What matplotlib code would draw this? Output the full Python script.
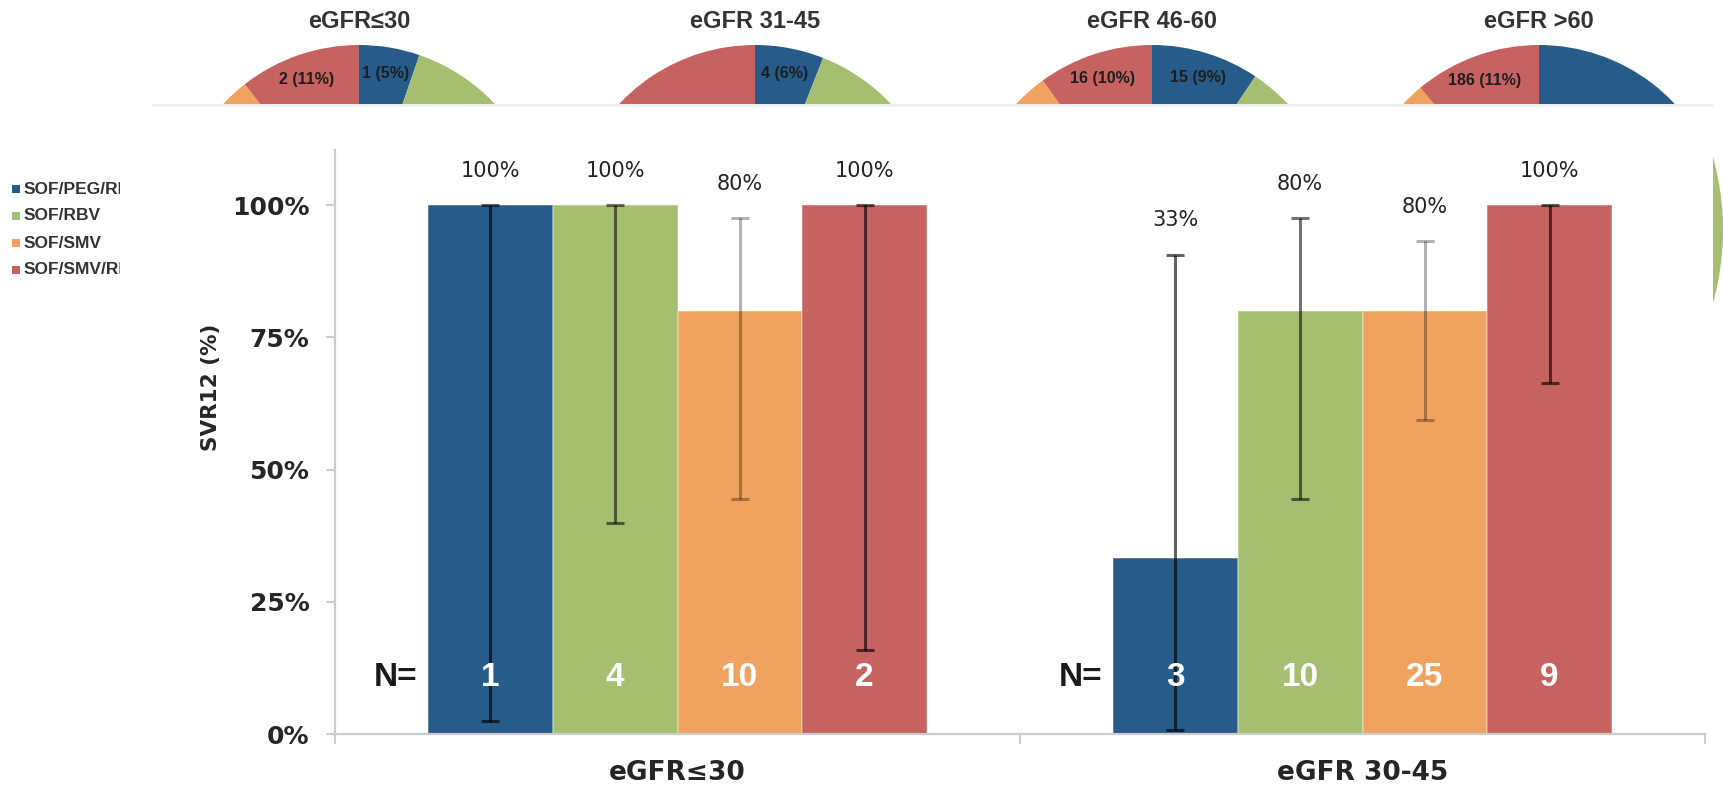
import matplotlib
matplotlib.use("Agg")
import matplotlib.pyplot as plt
from matplotlib.patches import Rectangle, Circle
from matplotlib.font_manager import FontProperties
import numpy as np

W, H, DPI = 1723, 787, 100

# ---------------- data ----------------
regimens = ["SOF/PEG/RBV", "SOF/RBV", "SOF/SMV", "SOF/SMV/RBV"]
colors = ["#275B89", "#A6BE6F", "#EFA35E", "#C66260"]

groups = ["eGFR≤30", "eGFR 30-45"]
svr_le30 = [100, 100, 80, 100]
svr_30_45 = [33.3, 80, 80, 100]
ci_low_le30 = [2.5, 39.8, 44.4, 15.8]
ci_high_le30 = [100, 100, 97.5, 100]
ci_low_30_45 = [0.8, 44.4, 59.3, 66.4]
ci_high_30_45 = [90.6, 97.5, 93.2, 100]
n_le30 = [1, 4, 10, 2]
n_30_45 = [3, 10, 25, 9]
value_labels_le30 = ["100%", "100%", "80%", "100%"]
value_labels_30_45 = ["33%", "80%", "80%", "100%"]

yticks = [0, 25, 50, 75, 100]
ytick_labels = ["0%", "25%", "50%", "75%", "100%"]
ylabel = "SVR12 (%)"

pie_titles = ["eGFR≤30", "eGFR 31-45", "eGFR 46-60", "eGFR >60"]
pie_le30 = [1, 9, 7, 2]
pie_31_45 = [4, 20, 18, 25]
pie_46_60 = [15, 70, 59, 16]
pie_gt60 = [700, 500, 304, 186]

# ---------------- styles ----------------
err_alpha = [0.62, 0.55, 0.3, 0.62]
TXT = "#262626"
AXC = "#cccccc"
BOLD_SANS = dict(family="Liberation Sans", weight="bold")
BOLD_DV = dict(family="DejaVu Sans", weight="bold")

fig = plt.figure(figsize=(W / DPI, H / DPI), dpi=DPI)
fig.patch.set_facecolor("white")


def px_axes(x0, y0, x1, y1, **kw):
    return fig.add_axes([x0 / W, 1 - y1 / H, (x1 - x0) / W, (y1 - y0) / H], **kw)


# ---------------- decoration layer ----------------
deco = px_axes(0, 0, W, H, zorder=0)
deco.set_xlim(0, W)
deco.set_ylim(H, 0)
deco.axis("off")
deco.add_patch(Rectangle((152, 104), 1561, 3, color="#f0f0f0", lw=0))
clip = Rectangle((1713, 0), 30, H, transform=deco.transData)
arc = Circle((1452, 230), 271, color=colors[1], lw=0)
deco.add_patch(arc)
arc.set_clip_path(clip)

# ---------------- top pies (cut) ----------------
pie_sets = [pie_le30, pie_31_45, pie_46_60, pie_gt60]
pie_cx = [359, 755, 1152, 1539]
pie_cy, R, cut, half = 231, 186, 104, 195
for cx, counts, title in zip(pie_cx, pie_sets, pie_titles):
    pax = px_axes(cx - half, 0, cx + half, cut, zorder=1)
    tot = sum(counts)
    wedges, texts, autotexts = pax.pie(
        counts, colors=colors, startangle=90, counterclock=False,
        autopct=lambda p, tot=tot: f"{int(round(p * tot / 100))} ({p:.0f}%)",
        pctdistance=0.86, wedgeprops=dict(linewidth=0),
        textprops=dict(fontsize=11.5, color="#1e1e1e", **BOLD_SANS))
    ymin = (pie_cy - cut) / R
    for a in list(wedges) + list(texts) + list(autotexts):
        a.set_clip_on(True)
        a.set_clip_path(pax.patch)
    for t in autotexts:
        # labels falling below the cut line are hidden, as in the source
        if t.get_position()[1] < ymin + 0.06:
            t.set_visible(False)
    pax.set_aspect("auto")
    pax.set_xlim(-half / R, half / R)
    pax.set_ylim(ymin, pie_cy / R)
    pax.axis("off")
    pax.text(0, (pie_cy - 22) / R, title, ha="center", va="center",
             fontsize=17, color="#333333", clip_on=False, **BOLD_SANS)

# ---------------- legend ----------------
lax = px_axes(0, 170, 120, 290, zorder=1)
lax.set_xlim(0, 120)
lax.set_ylim(290, 170)
lax.axis("off")
rows = [189 + 27 * i for i in range(len(regimens))]
lax.scatter([16] * len(regimens), rows, marker="s", s=36, c=colors, linewidths=0)
for r, name in zip(rows, regimens):
    lax.text(24, r, name, va="center", ha="left", fontsize=12.5,
             color="#333333", clip_on=True, **BOLD_SANS)

# ---------------- bar chart ----------------
ax = px_axes(335, 150, 1705, 734, zorder=2)
ax.set_facecolor("none")
x = np.arange(len(groups))
bw = 0.182
svr = [svr_le30, svr_30_45]
lo = [ci_low_le30, ci_low_30_45]
hi = [ci_high_le30, ci_high_30_45]
ns = [n_le30, n_30_45]
vlabels = [value_labels_le30, value_labels_30_45]

for j in range(len(regimens)):
    pos = x + (j - 1.5) * bw
    vals = np.array([svr[g][j] for g in range(len(groups))])
    lows = np.array([lo[g][j] for g in range(len(groups))])
    highs = np.array([hi[g][j] for g in range(len(groups))])
    ax.bar(pos, vals, bw, color=colors[j], edgecolor=(1, 1, 1, 0.3),
           linewidth=1.2, zorder=2)
    ax.errorbar(pos, vals, yerr=[vals - lows, highs - vals], fmt="none",
                ecolor=(0, 0, 0, err_alpha[j]), elinewidth=2.2,
                capsize=6.5, capthick=2.2, zorder=3)
    for g in range(len(groups)):
        ax.text(pos[g], highs[g] + 6.5, vlabels[g][j], ha="center", va="center",
                fontsize=15, color="#222222", family="DejaVu Sans", zorder=5)
        ax.text(pos[g], 10.6, str(ns[g][j]), ha="center", va="center",
                fontsize=24, color="white", zorder=6, **BOLD_SANS)

for g in range(len(groups)):
    ax.text(x[g] - 2 * bw - 0.016, 10.6, "N=", ha="right", va="center",
            fontsize=24, color="#1a1a1a", **BOLD_SANS)

ax.set_xlim(-0.5, 1.5)
ax.set_ylim(0, 110.4)
for s in ["top", "right"]:
    ax.spines[s].set_visible(False)
for s in ["left", "bottom"]:
    ax.spines[s].set_color(AXC)
    ax.spines[s].set_linewidth(1.6)

ax.set_yticks(yticks)
ax.set_yticklabels(ytick_labels)
ax.tick_params(axis="y", length=6.5, width=1.5, color=AXC, labelcolor=TXT, pad=12)
for lab in ax.get_yticklabels():
    lab.set_fontproperties(FontProperties(family="DejaVu Sans", weight="bold", size=18))

ax.set_xticks(x)
ax.set_xticklabels(groups)
ax.set_xticks([-0.5, 0.5, 1.5], minor=True)
ax.tick_params(axis="x", which="major", length=0, pad=19, labelcolor=TXT)
ax.tick_params(axis="x", which="minor", length=7, width=1.5, color=AXC)
for lab in ax.get_xticklabels():
    lab.set_fontproperties(FontProperties(family="DejaVu Sans", weight="bold", size=19))

fig.text(211 / W, 1 - 387 / H, ylabel, rotation=90, ha="center", va="center",
         fontsize=15.5, color=TXT, **BOLD_DV)

fig.savefig("out.png", dpi=DPI, facecolor="white")
